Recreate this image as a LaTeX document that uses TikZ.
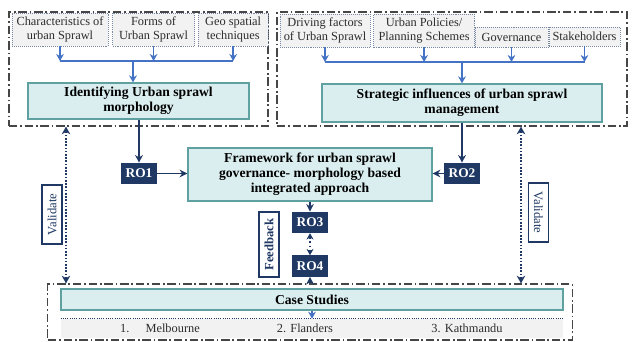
\documentclass[tikz,border=0pt]{standalone}
\usepackage{fontspec}
\setmainfont{Liberation Serif}
\usetikzlibrary{arrows.meta, positioning, calc}
\definecolor{navyblue}{RGB}{31,56,100}
\definecolor{tealfill}{RGB}{218,238,240}
\definecolor{tealline}{RGB}{95,160,160}
\definecolor{arrowblue}{RGB}{68,114,196}
\definecolor{boxgray}{RGB}{242,242,242}
\definecolor{framegray}{RGB}{70,70,70}
\definecolor{textgray}{RGB}{45,45,45}

\begin{document}
\begin{tikzpicture}[
    x=0.025cm, y=-0.025cm,
    factor/.style={rectangle, draw=navyblue!60, densely dotted, fill=boxgray, inner sep=1pt, align=center, text=textgray, font=\fontsize{8.8}{9.8}\selectfont, minimum height=0.825cm},
    mainbox/.style={rectangle, draw=tealline, line width=0.9pt, fill=tealfill, align=center, inner sep=1pt, font=\fontsize{9.7}{10.7}\selectfont\bfseries},
    robox/.style={rectangle, fill=navyblue, text=white, inner sep=0pt, minimum width=0.9cm, minimum height=0.525cm, font=\fontsize{9.5}{10}\selectfont\bfseries},
    tagbox/.style={rectangle, draw=navyblue, line width=0.8pt, fill=white, text=navyblue, inner sep=1pt, minimum height=0.5cm, font=\fontsize{9}{10}\selectfont},
    container/.style={rectangle, draw=framegray, line width=0.8pt, dash pattern=on 6pt off 2pt on 1.2pt off 2pt},
    feed/.style={arrowblue, line width=1pt, -{Stealth[length=5pt, width=5.5pt]}},
    busline/.style={arrowblue, line width=1pt},
    link/.style={navyblue, line width=1.2pt, -{Stealth[length=5.5pt, width=5.5pt]}},
    check/.style={navyblue, line width=1.4pt, dash pattern=on 1.2pt off 1.1pt, {Stealth[length=5.5pt, width=6pt]}-{Stealth[length=5.5pt, width=6pt]}},
]
    \useasboundingbox (0,0) rectangle (633,342);

    % dash-dot groups
    \node[container, minimum width=6.475cm, minimum height=2.85cm] (lcont) at (138.5,69) {};
    \node[container, minimum width=8.75cm, minimum height=2.85cm] (rcont) at (452,69) {};
    \node[container, minimum width=13.1cm, minimum height=1.4cm] (bcont) at (310,312) {};

    % morphology side
    \node[factor, minimum width=2.4cm] (chr) at (60,29.5) {Characteristics of\\urban Sprawl};
    \node[factor, minimum width=2.05cm, right=0.1cm of chr] (frm) {Forms of\\Urban Sprawl};
    \node[factor, minimum width=1.75cm, right=0.075cm of frm] (geo) {Geo spatial\\techniques};
    \node[mainbox, minimum width=5.525cm, minimum height=0.9cm] (ident) at (138.5,101) {Identifying Urban sprawl\\morphology};

    % governance side
    \node[factor, minimum width=2.25cm] (drv) at (325,30.5) {Driving factors\\of Urban Sprawl};
    \node[factor, minimum width=2.525cm, right=0.075cm of drv] (pol) {Urban Policies/\\Planning Schemes};
    \node[factor, minimum width=1.825cm, minimum height=0.5cm] (gov) at (511.5,37) {Governance};
    \node[factor, minimum width=1.775cm, minimum height=0.475cm] (stk) at (584.5,36.5) {Stakeholders};
    \node[mainbox, minimum width=7cm, minimum height=0.95cm] (strat) at (462,103) {Strategic influences of urban sprawl\\management};

    % framework and objectives
    \node[mainbox, minimum width=6.1cm, minimum height=1.325cm] (frame) at (310,174.5) {Framework for urban sprawl\\governance- morphology based\\integrated approach};
    \node[robox] (ro1) at (139,173.5) {RO1};
    \node[robox] (ro2) at (462,173.5) {RO2};
    \node[robox, below=0.25cm of frame] (ro3) {RO3};
    \node[robox, below=0.55cm of ro3] (ro4) {RO4};
    \node[tagbox, font=\fontsize{9}{10}\selectfont\bfseries, rotate=90, minimum width=1.625cm] (fdbk) at (269,244.5) {Feedback};
    \node[tagbox, rotate=90, minimum width=1.475cm] (vall) at (52,214.5) {Validate};
    \node[tagbox, rotate=-90, minimum width=1.475cm] (valr) at (538.5,212.5) {Validate};

    % case studies
    \node[mainbox, minimum width=12.55cm, minimum height=0.525cm] (cases) at (312,299.5) {Case Studies};
    \node[fill=boxgray, minimum width=12.55cm, minimum height=0.475cm, inner sep=0pt] (crow) at (312,328.5) {};
    \draw[navyblue, densely dotted, line width=0.6pt] (crow.north west) -- (crow.north east);
    \node[text=textgray, font=\fontsize{8.8}{10}\selectfont] (mel) at (160,328.5) {1.\hspace{1.3em}Melbourne};
    \node[text=textgray, font=\fontsize{8.8}{10}\selectfont] (fla) at (305,328.5) {2. Flanders};
    \node[text=textgray, font=\fontsize{8.8}{10}\selectfont] (kat) at (467,328.5) {3. Kathmandu};

    \coordinate (lbus) at (133,61);
    \coordinate (rbus) at (462,62);
    \coordinate (lval) at (66,0);
    \coordinate (rval) at (521,0);

    % left bus
    \foreach \b in {chr,frm,geo}
        \draw[feed] (\b.south) -- (\b.south |- lbus);
    \draw[busline] (chr.south |- lbus) -- (geo.south |- lbus);
    \draw[feed] (lbus) -- (ident.north -| lbus);

    % right bus
    \foreach \b in {drv,pol,gov,stk}
        \draw[feed] (\b.south) -- (\b.south |- rbus);
    \draw[busline] (drv.south |- rbus) -- (stk.south |- rbus);
    \draw[feed] (rbus) -- (strat.north);

    % objectives
    \draw[link] (ident.south -| ro1) -- (ro1.north);
    \draw[link] (strat.south -| ro2) -- (ro2.north);
    \draw[link] (ro1.east) -- (frame.west |- ro1);
    \draw[link] (ro2.west) -- (frame.east |- ro2);
    \draw[link, line width=1pt] (frame.south -| ro3) -- (ro3.north);
    \draw[navyblue, line width=1pt, dotted, {Stealth[length=4.5pt, width=5pt]}-{Stealth[length=4.5pt, width=5pt]}] (ro3.south) -- (ro4.north);
    \draw[link, line width=1pt] (bcont.north -| ro4) -- (ro4.south);

    % validation
    \draw[check] (lcont.south -| lval) -- (bcont.north -| lval);
    \draw[check] (rcont.south -| rval) -- (bcont.north -| rval);
    \draw[feed, line width=0.9pt] (cases.south) -- (crow.north -| cases);
\end{tikzpicture}
\end{document}
